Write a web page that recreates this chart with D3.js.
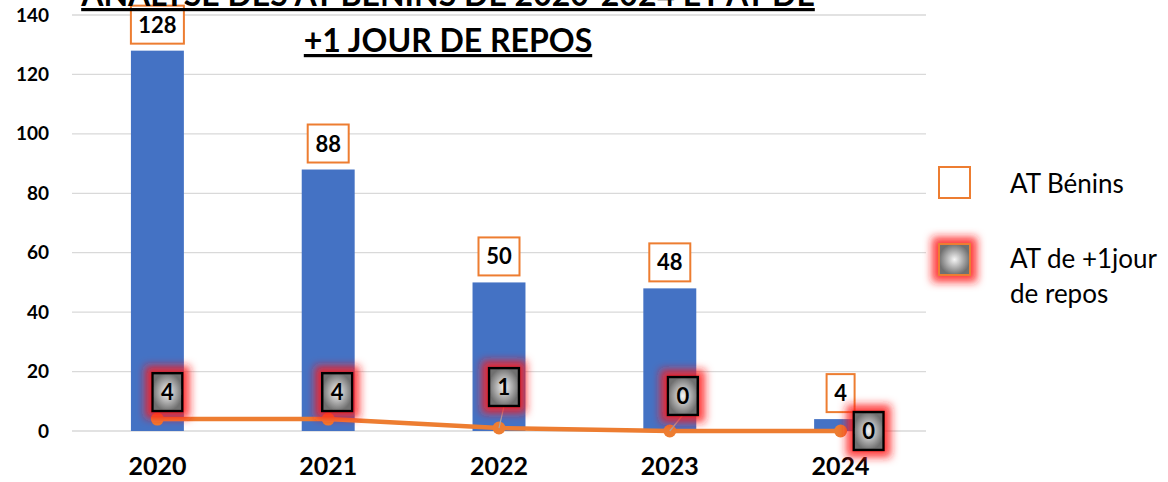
<!DOCTYPE html>
<html>
<head>
<meta charset="utf-8">
<script src="https://cdn.jsdelivr.net/npm/d3@7"></script>
<style>
  body { margin: 0; background: #fff; }
  svg { display: block; font-family: Lato, "Open Sans", sans-serif; }
</style>
</head>
<body>
<div id="chart"></div>
<script>
// chart data
var years = ["2020", "2021", "2022", "2023", "2024"];
var atBenins = [128, 88, 50, 48, 4];
var atRepos = [4, 4, 1, 0, 0];
var yTicks = [0, 20, 40, 60, 80, 100, 120, 140];

var svgWidth = 1168;
var svgHeight = 482;

var svg = d3.select("#chart")
    .append("svg")
    .attr("width", svgWidth)
    .attr("height", svgHeight);

var defs = svg.append("defs");

// red glow round the line labels
var glow = defs.append("filter")
    .attr("id", "glow")
    .attr("x", "-80%").attr("y", "-80%")
    .attr("width", "260%").attr("height", "260%");
glow.append("feMorphology")
    .attr("in", "SourceAlpha")
    .attr("operator", "dilate")
    .attr("radius", 6)
    .attr("result", "grown");
glow.append("feGaussianBlur")
    .attr("in", "grown")
    .attr("stdDeviation", 4.5)
    .attr("result", "blur");
glow.append("feFlood").attr("flood-color", "#ff1a1a").attr("flood-opacity", 0.85);
glow.append("feComposite").attr("in2", "blur").attr("operator", "in").attr("result", "red");
var merge = glow.append("feMerge");
merge.append("feMergeNode").attr("in", "red");
merge.append("feMergeNode").attr("in", "SourceGraphic");

var grad = defs.append("radialGradient").attr("id", "grayGrad");
grad.append("stop").attr("offset", "0%").attr("stop-color", "#f6f6f6");
grad.append("stop").attr("offset", "100%").attr("stop-color", "#707070");

var x = d3.scaleBand()
    .domain(years)
    .range([72, 926])
    .paddingInner(0.69)
    .paddingOuter(0.345);

var y = d3.scaleLinear()
    .domain([0, 140])
    .range([431, 15]);

var cx = (d, i) => x(years[i]) + x.bandwidth() / 2;

// gridlines
svg.append("g")
    .selectAll("line")
    .data(yTicks)
    .enter()
    .append("line")
    .attr("x1", 72)
    .attr("x2", 926)
    .attr("y1", d => y(d))
    .attr("y2", d => y(d))
    .attr("stroke", "#d9d9d9")
    .attr("stroke-width", 1.3);

// y axis
var yAxis = svg.append("g")
    .attr("transform", "translate(49,0)")
    .call(d3.axisLeft(y).tickValues(yTicks).tickSize(0).tickPadding(0));
yAxis.select(".domain").remove();
yAxis.selectAll("text")
    .attr("font-family", "Lato, sans-serif")
    .attr("font-size", "19px")
    .attr("font-weight", "bold")
    .attr("fill", "#000");

// x axis
var xAxis = svg.append("g")
    .attr("transform", "translate(0,451)")
    .call(d3.axisBottom(x).tickSize(0).tickPadding(6));
xAxis.select(".domain").remove();
xAxis.selectAll("text")
    .attr("font-family", "Lato, sans-serif")
    .attr("font-size", "25px")
    .attr("font-weight", "bold")
    .attr("fill", "#000");

// bars
svg.selectAll(".bar")
    .data(atBenins)
    .enter()
    .append("rect")
    .attr("class", "bar")
    .attr("x", (d, i) => x(years[i]))
    .attr("y", d => y(d))
    .attr("width", x.bandwidth())
    .attr("height", d => y(0) - y(d))
    .attr("fill", "#4472C4");

// line
var line = d3.line()
    .x(cx)
    .y(d => y(d));

svg.append("path")
    .datum(atRepos)
    .attr("d", line)
    .attr("fill", "none")
    .attr("stroke", "#ED7D31")
    .attr("stroke-width", 4.5);

svg.selectAll(".dot")
    .data(atRepos)
    .enter()
    .append("circle")
    .attr("class", "dot")
    .attr("cx", cx)
    .attr("cy", d => y(d))
    .attr("r", 6.5)
    .attr("fill", "#ED7D31");

// bar labels
var boxW = d => d >= 100 ? 53 : d >= 10 ? 41 : 28;
var barLabels = svg.selectAll(".barLabel")
    .data(atBenins)
    .enter()
    .append("g")
    .attr("class", "barLabel");
barLabels.append("rect")
    .attr("x", (d, i) => cx(d, i) - boxW(d) / 2)
    .attr("y", d => y(d) - 45)
    .attr("width", boxW)
    .attr("height", 38)
    .attr("fill", "#fff")
    .attr("stroke", "#ED7D31")
    .attr("stroke-width", 2);
barLabels.append("text")
    .attr("x", cx)
    .attr("y", d => y(d) - 18)
    .attr("text-anchor", "middle")
    .attr("font-size", "22px")
    .attr("font-weight", "bold")
    .text(d => d);

// line labels (offsets from each point, as in the reference)
var lineLabelDx = [-5, -6, -10, -2, 13];
var lineLabelDy = [-46, -46, -60, -54, -19];

svg.selectAll(".leader")
    .data(atRepos)
    .enter()
    .append("line")
    .attr("class", "leader")
    .attr("x1", cx)
    .attr("y1", d => y(d))
    .attr("x2", (d, i) => cx(d, i) + lineLabelDx[i] + 15)
    .attr("y2", (d, i) => y(d) + lineLabelDy[i] + 38)
    .attr("stroke", "#a8a8a8")
    .attr("stroke-width", 1.2)
    .attr("display", (d, i) => (i === 2 || i === 3) ? null : "none");

var lineLabels = svg.selectAll(".lineLabel")
    .data(atRepos)
    .enter()
    .append("g")
    .attr("class", "lineLabel");
lineLabels.append("rect")
    .attr("x", (d, i) => cx(d, i) + lineLabelDx[i])
    .attr("y", (d, i) => y(d) + lineLabelDy[i])
    .attr("width", 30)
    .attr("height", 38)
    .attr("fill", "url(#grayGrad)")
    .attr("stroke", "#000")
    .attr("stroke-width", 2.5)
    .attr("filter", "url(#glow)");
lineLabels.append("text")
    .attr("x", (d, i) => cx(d, i) + lineLabelDx[i] + 15)
    .attr("y", (d, i) => y(d) + lineLabelDy[i] + 27)
    .attr("text-anchor", "middle")
    .attr("font-size", "22px")
    .attr("font-weight", "bold")
    .text(d => d);

// title (first line runs off the top edge, as in the reference)
var title = svg.append("text")
    .attr("text-anchor", "middle")
    .attr("font-size", "32px")
    .attr("font-weight", "bold")
    .attr("text-decoration", "underline");
title.append("tspan")
    .attr("x", 448)
    .attr("y", 6)
    .text("ANALYSE DES AT BÉNINS DE 2020-2024 ET AT DE");
title.append("tspan")
    .attr("x", 448)
    .attr("y", 52)
    .text("+1 JOUR DE REPOS");

// legend
var legend = svg.append("g");
legend.append("rect")
    .attr("x", 939).attr("y", 167)
    .attr("width", 31).attr("height", 31)
    .attr("fill", "#fff")
    .attr("stroke", "#ED7D31")
    .attr("stroke-width", 2);
legend.append("text")
    .attr("x", 1010).attr("y", 193)
    .attr("font-size", "26px")
    .text("AT Bénins");
legend.append("rect")
    .attr("x", 939).attr("y", 244)
    .attr("width", 31).attr("height", 31)
    .attr("fill", "url(#grayGrad)")
    .attr("stroke", "#ED7D31")
    .attr("stroke-width", 2)
    .attr("filter", "url(#glow)");
var leg2 = legend.append("text")
    .attr("font-size", "26px");
leg2.append("tspan").attr("x", 1010).attr("y", 268).text("AT de +1jour");
leg2.append("tspan").attr("x", 1010).attr("y", 303).text("de repos");
</script>
</body>
</html>
